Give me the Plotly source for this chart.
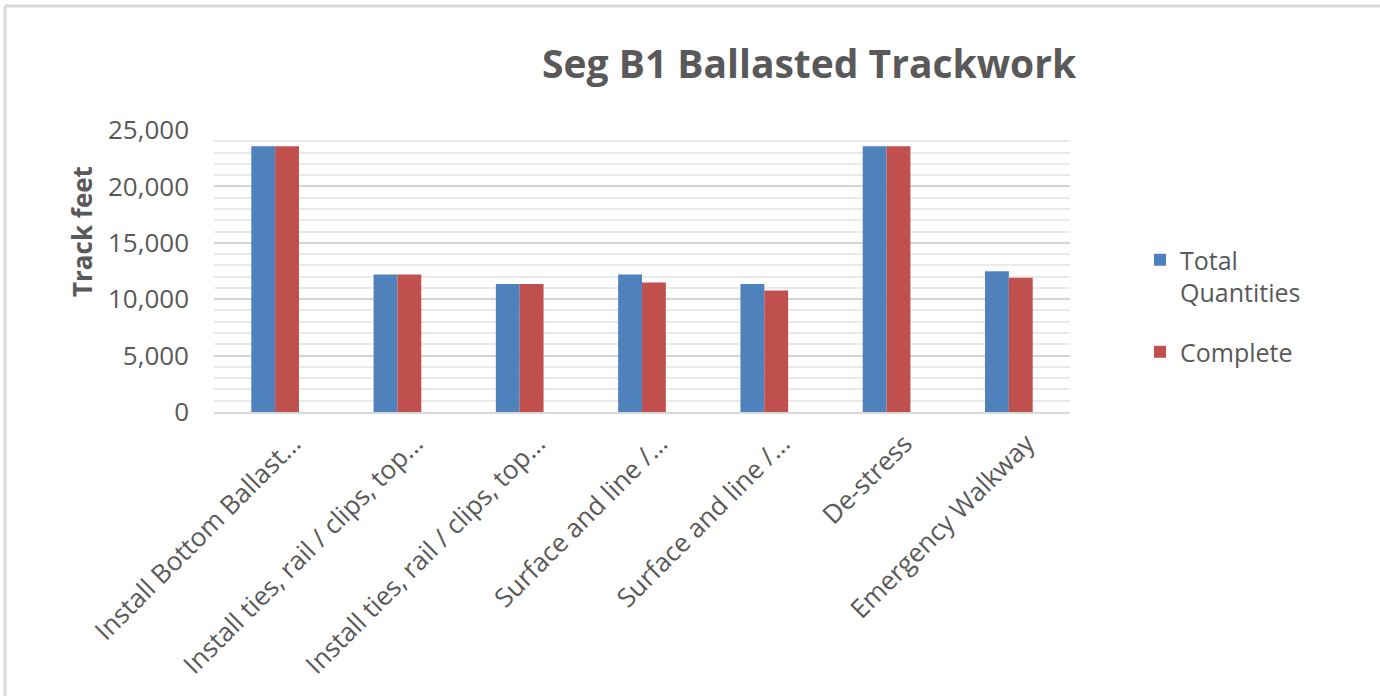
import plotly.graph_objects as go

categories = [
    "Install Bottom Ballast...",
    "Install ties, rail / clips, top...",
    "Install ties, rail / clips, top...",
    "Surface and line /...",
    "Surface and line /...",
    "De-stress",
    "Emergency Walkway",
]
total_quantities = [23560, 12200, 11350, 12200, 11350, 23560, 12480]
complete = [23560, 12200, 11350, 11480, 10780, 23560, 11900]
y_ticks = [0, 5000, 10000, 15000, 20000, 25000]
y_tick_labels = ["0", "5,000", "10,000", "15,000", "20,000", "25,000"]

FONT = "Open Sans"
GRAY = "#595959"
idx = list(range(len(categories)))

fig = go.Figure()
fig.add_trace(go.Bar(x=idx, y=total_quantities, name="Total<br>Quantities",
                     legendgroup="a",
                     marker=dict(color="#4F81BD", line=dict(width=0))))
fig.add_trace(go.Bar(x=idx, y=complete, name="Complete", legendgroup="b",
                     marker=dict(color="#C0504D", line=dict(width=0))))

W, H = 1380, 696
L, R, T, B = 214, 1070, 130, 412

def px(x):
    return (x - L) / (R - L)

def py(y):
    return (B - y) / (B - T)

fig.update_layout(
    width=W, height=H,
    margin=dict(l=L, r=W - R, t=T, b=H - B),
    paper_bgcolor="white", plot_bgcolor="white",
    barmode="group", bargap=0.61, bargroupgap=0,
    font=dict(family=FONT, color=GRAY, size=22),
    showlegend=True,
    legend=dict(x=px(1140), y=py(237), xanchor="left", yanchor="top",
                font=dict(size=25, color=GRAY), valign="top",
                traceorder="grouped", tracegroupgap=24, itemwidth=30,
                bgcolor="rgba(0,0,0,0)"),
    xaxis=dict(tickmode="array", tickvals=idx, ticktext=categories,
               tickangle=-45, range=[-0.5, len(categories) - 0.5],
               showgrid=False, showline=True, linecolor="#D9D9D9", linewidth=2,
               tickfont=dict(size=26, color=GRAY), ticks="", ticklabelshift=18,
               ticklabelstandoff=4),
    yaxis=dict(range=[0, 25000], tickmode="array", tickvals=y_ticks,
               ticktext=y_tick_labels, showgrid=True, gridcolor="#D4D4D4",
               gridwidth=2, zeroline=False, ticks="", ticklabelstandoff=24,
               tickfont=dict(size=26, color=GRAY),
               minor=dict(dtick=1000, showgrid=True, gridcolor="#EAEAEA", gridwidth=2)),
    annotations=[
        dict(text="<b>Seg B1 Ballasted Trackwork</b>", xref="paper", yref="paper",
             x=px(809), y=py(62), xanchor="center", yanchor="middle",
             showarrow=False, font=dict(size=39, color=GRAY, family=FONT)),
        dict(text="<b>Track feet</b>", xref="paper", yref="paper",
             x=px(82), y=py(232), xanchor="center", yanchor="middle",
             textangle=-90, showarrow=False, font=dict(size=26, color=GRAY, family=FONT)),
    ],
    shapes=[
        dict(type="line", xref="paper", yref="paper", x0=px(5), x1=px(1380),
             y0=py(6), y1=py(6), line=dict(color="#D9D9D9", width=3)),
        dict(type="line", xref="paper", yref="paper", x0=px(5), x1=px(5),
             y0=py(6), y1=py(696), line=dict(color="#D9D9D9", width=3)),
    ],
)

fig.write_html("out.html", config={"displayModeBar": False},
               post_script="document.body.style.margin='0';")
